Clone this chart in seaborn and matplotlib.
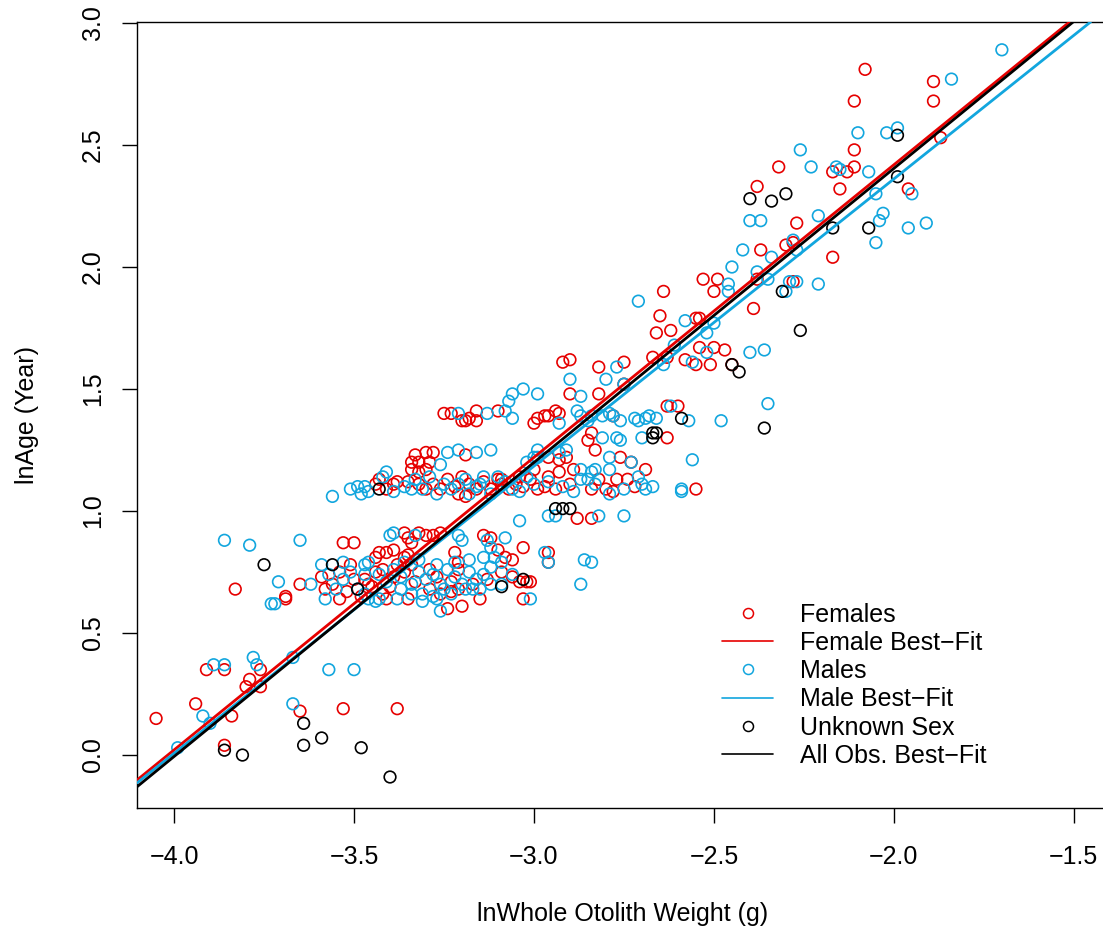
import numpy as np
import pandas as pd
import matplotlib
matplotlib.use("Agg")
import matplotlib.pyplot as plt
import seaborn as sns
from matplotlib.lines import Line2D

# ---------------- data (ln otolith weight, ln age) ----------------
female_x = [
    -4.05, -3.94, -3.91, -3.86, -3.86, -3.84, -3.83, -3.79, -3.80, -3.76, -3.76, -3.69, -3.69, -3.65, -3.65, -3.53, -3.53, -3.50, -3.38,
    -3.59, -3.58, -3.56, -3.54, -3.52, -3.50, -3.48, -3.54, -3.51,
    -3.36, -3.35, -3.34, -3.32, -3.30, -3.28, -3.26, -3.14, -3.12, -3.03, -3.43, -3.44, -3.41, -3.39, -3.36, -3.35, -3.22,
    -3.21, -3.10, -3.08, -3.06, -3.09, -3.06, -3.04, -3.02, -3.21, -3.23, -3.26, -3.42, -3.40, -3.45, -3.47, -3.03, -3.24,
    -3.42, -3.39, -3.36, -3.33, -3.29, -3.27, -3.23, -3.21, -3.17, -3.13, -3.38, -3.34, -3.29, -3.44, -3.46,
    -3.41, -3.35, -3.20, -3.15,
    -2.88, -2.84, -2.96, -2.96, -3.01,
    -3.25, -3.23, -3.20, -3.19, -3.18, -3.16, -3.16, -3.10, -3.00, -2.99,
    -3.34, -3.33, -3.32, -3.30, -3.29, -3.28, -3.34, -3.32, -3.30, -3.19, -3.44, -3.43, -3.41, -3.39, -3.38, -3.35, -3.32,
    -3.30, -3.28, -3.26, -3.24, -3.22, -3.20, -3.18, -3.16, -3.14, -3.12, -3.09, -3.07, -3.05, -3.03, -3.01, -2.99,
    -3.21, -3.19, -3.10, -3.09, -3.04,
    -2.90, -2.82, -2.75, -2.94, -2.93, -2.96, -2.97, -2.78, -2.63, -2.60, -2.63, -2.84, -2.85, -2.83, -2.96, -2.93, -2.91,
    -3.00, -2.96, -2.93, -2.89, -2.76, -2.73, -2.69, -2.82, -2.77, -2.74, -2.55, -2.97, -2.94, -2.90, -2.84, -2.80, -2.78, -2.72,
    -2.92, -2.90, -2.82, -2.75, -2.64, -2.65, -2.66, -2.62, -2.67, -2.63,
    -2.37, -2.30, -2.28, -2.17, -2.53, -2.49, -2.50, -2.38, -2.28, -2.39, -2.55, -2.54, -2.54, -2.50, -2.47, -2.58, -2.55, -2.51, -2.45,
    -2.08, -2.11, -2.11, -2.32, -2.17, -2.13, -2.11, -2.15, -2.38, -2.27,
    -1.89, -1.89, -1.87, -1.96,
]
female_y = [
    0.15, 0.21, 0.35, 0.04, 0.35, 0.16, 0.68, 0.31, 0.28, 0.28, 0.35, 0.65, 0.64, 0.70, 0.18, 0.19, 0.87, 0.87, 0.19,
    0.73, 0.68, 0.70, 0.64, 0.67, 0.72, 0.65, 0.75, 0.78,
    0.91, 0.89, 0.87, 0.91, 0.90, 0.90, 0.91, 0.90, 0.89, 0.85, 0.83, 0.81, 0.83, 0.84, 0.81, 0.82, 0.83,
    0.79, 0.84, 0.81, 0.80, 0.75, 0.73, 0.71, 0.71, 0.68, 0.67, 0.66, 0.66, 0.69, 0.69, 0.72, 0.64, 0.60,
    0.76, 0.73, 0.75, 0.71, 0.76, 0.73, 0.71, 0.76, 0.70, 0.72, 0.78, 0.78, 0.68, 0.75, 0.70,
    0.64, 0.64, 0.61, 0.64,
    0.97, 0.97, 0.83, 0.79, 0.71,
    1.40, 1.40, 1.37, 1.37, 1.38, 1.41, 1.37, 1.41, 1.36, 1.38,
    1.20, 1.23, 1.20, 1.24, 1.20, 1.24, 1.17, 1.16, 1.17, 1.23, 1.11, 1.13, 1.09, 1.11, 1.12, 1.12, 1.11,
    1.09, 1.11, 1.09, 1.13, 1.10, 1.14, 1.11, 1.09, 1.12, 1.09, 1.11, 1.09, 1.11, 1.10, 1.13, 1.09,
    1.07, 1.06, 1.13, 1.13, 1.14,
    1.48, 1.48, 1.52, 1.41, 1.40, 1.39, 1.39, 1.39, 1.43, 1.43, 1.30, 1.32, 1.29, 1.25, 1.22, 1.21, 1.22,
    1.17, 1.14, 1.16, 1.17, 1.22, 1.20, 1.17, 1.13, 1.13, 1.13, 1.09, 1.10, 1.09, 1.11, 1.09, 1.09, 1.08, 1.10,
    1.61, 1.62, 1.59, 1.61, 1.90, 1.80, 1.73, 1.74, 1.63, 1.63,
    2.07, 2.09, 2.10, 2.04, 1.95, 1.95, 1.90, 1.95, 1.94, 1.83, 1.79, 1.79, 1.67, 1.67, 1.66, 1.62, 1.60, 1.60, 1.60,
    2.81, 2.68, 2.48, 2.41, 2.39, 2.39, 2.41, 2.32, 2.33, 2.18,
    2.76, 2.68, 2.53, 2.32,
]

male_x = [
    -3.99, -3.92, -3.90, -3.89, -3.86, -3.86, -3.79, -3.78, -3.77, -3.73, -3.72, -3.71, -3.67, -3.67, -3.65, -3.62, -3.57, -3.50,
    -3.59, -3.57, -3.55, -3.53, -3.51, -3.49, -3.47, -3.53, -3.58,
    -3.40, -3.39, -3.33, -3.21, -3.20, -3.08, -3.04, -3.46, -3.47, -3.36, -3.13, -3.12, -3.14, -3.11, -3.09,
    -3.06, -3.12, -3.09, -3.17, -3.23, -3.28, -3.31, -3.34, -3.38, -3.43, -3.46, -3.47, -3.01, -3.26,
    -3.43, -3.41, -3.39, -3.37, -3.34, -3.32, -3.30, -3.28, -3.26, -3.24, -3.22, -3.20, -3.18, -3.16,
    -3.14, -3.12, -3.27, -3.22, -3.18, -3.32, -3.25, -3.19, -3.37, -3.15, -3.44, -3.31, -3.27,
    -2.96, -2.94, -2.82, -2.75, -2.97, -2.96, -2.86, -2.84, -2.87,
    -3.21, -3.13, -3.08, -3.06, -3.07, -3.06, -3.03, -2.99,
    -3.56, -3.51, -3.49, -3.47, -3.46, -3.48, -3.42, -3.41, -3.39, -3.36, -3.34, -3.26, -3.24, -3.21, -3.16, -3.12,
    -3.33, -3.31, -3.29, -3.27, -3.25, -3.23, -3.21, -3.19, -3.16, -3.14, -3.12, -3.10, -3.08, -3.06, -3.04, -3.02,
    -3.00, -3.18, -3.15, -3.02, -3.00,
    -2.90, -2.87, -2.75, -2.93, -2.88, -2.87, -2.85, -2.84, -2.81, -2.79, -2.78, -2.76, -2.72, -2.71, -2.69, -2.68,
    -2.66, -2.62, -2.57, -2.70, -2.81, -2.77, -2.76, -2.56, -2.99, -2.99, -2.93, -2.91, -2.87, -2.84, -2.83, -2.79,
    -2.79, -2.73, -2.71, -2.70, -2.87, -2.85, -2.59, -2.59, -2.96, -2.92, -2.89, -2.83, -2.79, -2.75, -2.69, -2.67,
    -2.80, -2.77, -2.71, -2.64, -2.61,
    -2.42, -2.28, -2.27, -2.34, -2.05, -2.45, -2.46, -2.46, -2.38, -2.35, -2.30, -2.29, -2.27, -2.21, -2.58, -2.50,
    -2.52, -2.52, -2.56, -2.40, -2.36, -2.35, -2.48,
    -2.10, -2.26, -2.23, -2.16, -2.15, -2.07, -2.40, -2.37, -2.21,
    -1.70, -1.84, -2.02, -1.99, -1.95, -2.05, -2.03, -2.04, -1.96, -1.91,
]
male_y = [
    0.03, 0.16, 0.13, 0.37, 0.37, 0.88, 0.86, 0.40, 0.37, 0.62, 0.62, 0.71, 0.40, 0.21, 0.88, 0.70, 0.35, 0.35,
    0.78, 0.74, 0.68, 0.72, 0.75, 0.68, 0.74, 0.79, 0.64,
    0.90, 0.91, 0.90, 0.90, 0.88, 0.89, 0.96, 0.79, 0.78, 0.79, 0.88, 0.85, 0.81, 0.81, 0.79,
    0.74, 0.70, 0.70, 0.68, 0.66, 0.65, 0.66, 0.66, 0.64, 0.64, 0.64, 0.66, 0.64, 0.59,
    0.74, 0.71, 0.76, 0.73, 0.70, 0.75, 0.72, 0.74, 0.70, 0.76, 0.73, 0.70, 0.75, 0.72,
    0.74, 0.77, 0.78, 0.79, 0.80, 0.80, 0.68, 0.68, 0.68, 0.68, 0.63, 0.63, 0.64,
    0.98, 0.98, 0.98, 0.98, 0.83, 0.79, 0.80, 0.79, 0.70,
    1.40, 1.40, 1.41, 1.38, 1.45, 1.48, 1.50, 1.48,
    1.06, 1.09, 1.10, 1.10, 1.08, 1.07, 1.14, 1.16, 1.08, 1.10, 1.09, 1.19, 1.24, 1.25, 1.24, 1.25,
    1.13, 1.09, 1.14, 1.07, 1.11, 1.09, 1.11, 1.13, 1.10, 1.14, 1.07, 1.14, 1.12, 1.09, 1.08, 1.14,
    1.11, 1.07, 1.11, 1.20, 1.22,
    1.54, 1.47, 1.52, 1.36, 1.41, 1.39, 1.37, 1.39, 1.39, 1.40, 1.39, 1.37, 1.38, 1.37, 1.38, 1.39,
    1.38, 1.43, 1.37, 1.30, 1.30, 1.30, 1.29, 1.21, 1.25, 1.22, 1.24, 1.25, 1.17, 1.16, 1.17, 1.17,
    1.22, 1.20, 1.14, 1.11, 1.13, 1.13, 1.09, 1.08, 1.12, 1.10, 1.08, 1.11, 1.07, 1.09, 1.09, 1.10,
    1.54, 1.59, 1.86, 1.60, 1.68,
    2.07, 2.11, 2.07, 2.04, 2.10, 2.00, 1.93, 1.90, 1.98, 1.95, 1.90, 1.94, 1.94, 1.93, 1.78, 1.77,
    1.73, 1.65, 1.61, 1.65, 1.66, 1.44, 1.37,
    2.55, 2.48, 2.41, 2.41, 2.40, 2.39, 2.19, 2.19, 2.21,
    2.89, 2.77, 2.55, 2.57, 2.30, 2.30, 2.22, 2.19, 2.16, 2.18,
]

unknown_x = [
    -3.75, -3.86, -3.81, -3.64, -3.64, -3.59, -3.48, -3.40, -3.56, -3.49, -3.03, -3.09, -3.43, -2.94, -2.92, -2.90,
    -2.59, -2.67, -2.66, -2.67, -2.31, -2.26, -2.43, -2.45, -2.36, -2.40, -2.34, -2.30, -2.17, -2.07, -1.99, -1.99,
]
unknown_y = [
    0.78, 0.02, 0.00, 0.13, 0.04, 0.07, 0.03, -0.09, 0.78, 0.68, 0.72, 0.69, 1.09, 1.01, 1.01, 1.01,
    1.38, 1.32, 1.32, 1.30, 1.90, 1.74, 1.57, 1.60, 1.34, 2.28, 2.27, 2.30, 2.16, 2.16, 2.54, 2.37,
]

# best-fit lines (intercept, slope)
fit_labels = ["Female Best\u2212Fit", "Male Best\u2212Fit", "All Obs. Best\u2212Fit"]
fit_intercept = [4.817, 4.715, 4.814]
fit_slope = [1.199, 1.177, 1.205]

point_labels = ["Females", "Males", "Unknown Sex"]
x_ticks = [-4.0, -3.5, -3.0, -2.5, -2.0, -1.5]
y_ticks = [0.0, 0.5, 1.0, 1.5, 2.0, 2.5, 3.0]

RED = "#E60000"
CYAN = "#12A6DE"
BLACK = "#000000"
FS = 18

sns.set_style("white")
plt.rcParams["font.family"] = ["Liberation Sans", "DejaVu Sans"]
plt.rcParams["axes.unicode_minus"] = True
plt.rcParams["text.color"] = "black"
plt.rcParams["axes.labelcolor"] = "black"
plt.rcParams["xtick.color"] = "black"
plt.rcParams["ytick.color"] = "black"

fig = plt.figure(figsize=(11.03, 9.30), dpi=100)
ax = fig.add_axes([137 / 1103, 122 / 930, 966 / 1103, 786 / 930])

groups = [
    (female_x, female_y, RED),
    (male_x, male_y, CYAN),
    (unknown_x, unknown_y, BLACK),
]
for gx, gy, col in groups:
    df = pd.DataFrame({"x": gx, "y": gy})
    sns.scatterplot(data=df, x="x", y="y", ax=ax, color=col, facecolor="none",
                    edgecolor=col, s=70, linewidth=1.2, legend=False, zorder=2)

fit_colors = [RED, CYAN, BLACK]
for b, m, col in zip(fit_intercept, fit_slope, fit_colors):
    ax.axline((0.0, b), slope=m, color=col, linewidth=2.0, zorder=3)

ax.set_xlim(-4.103, -1.419)
ax.set_ylim(-0.217, 3.004)

ax.set_xticks(x_ticks)
ax.set_xticklabels([f"{v:.1f}".replace("-", "\u2212") for v in x_ticks])
ax.set_yticks(y_ticks)
ax.set_yticklabels([f"{v:.1f}" for v in y_ticks], rotation=90, va="center")

ax.tick_params(axis="both", which="both", direction="out", length=10.8, width=1.0,
               color="black", labelcolor="black", labelsize=FS)
ax.tick_params(axis="x", bottom=True, pad=15.5)
ax.tick_params(axis="y", left=True, pad=12.5)

for side in ["left", "bottom", "top"]:
    ax.spines[side].set_visible(True)
    ax.spines[side].set_color("black")
    ax.spines[side].set_linewidth(1.0)
ax.spines["right"].set_visible(False)

ax.set_xlabel("lnWhole Otolith Weight (g)", fontsize=FS, color="black")
ax.set_ylabel("lnAge (Year)", fontsize=FS, color="black")
ax.xaxis.set_label_coords(0.503, -0.119)
ax.yaxis.set_label_coords(-0.101, 0.5)

handles = [
    Line2D([], [], ls="none", marker="o", mfc="none", mec=RED, mew=1.1, ms=7.2),
    Line2D([], [], color=RED, lw=1.2),
    Line2D([], [], ls="none", marker="o", mfc="none", mec=CYAN, mew=1.1, ms=7.2),
    Line2D([], [], color=CYAN, lw=1.2),
    Line2D([], [], ls="none", marker="o", mfc="none", mec=BLACK, mew=1.1, ms=7.2),
    Line2D([], [], color=BLACK, lw=1.2),
]
labels = [point_labels[0], fit_labels[0], point_labels[1], fit_labels[1], point_labels[2], fit_labels[2]]
leg = ax.legend(handles, labels, loc="upper left", bbox_to_anchor=(0.6056, 0.2614),
                frameon=False, fontsize=FS, handlelength=2.04, handletextpad=1.08,
                labelspacing=0.17, borderpad=0, borderaxespad=0)
for t in leg.get_texts():
    t.set_color("black")

fig.savefig("out.png", dpi=100)
